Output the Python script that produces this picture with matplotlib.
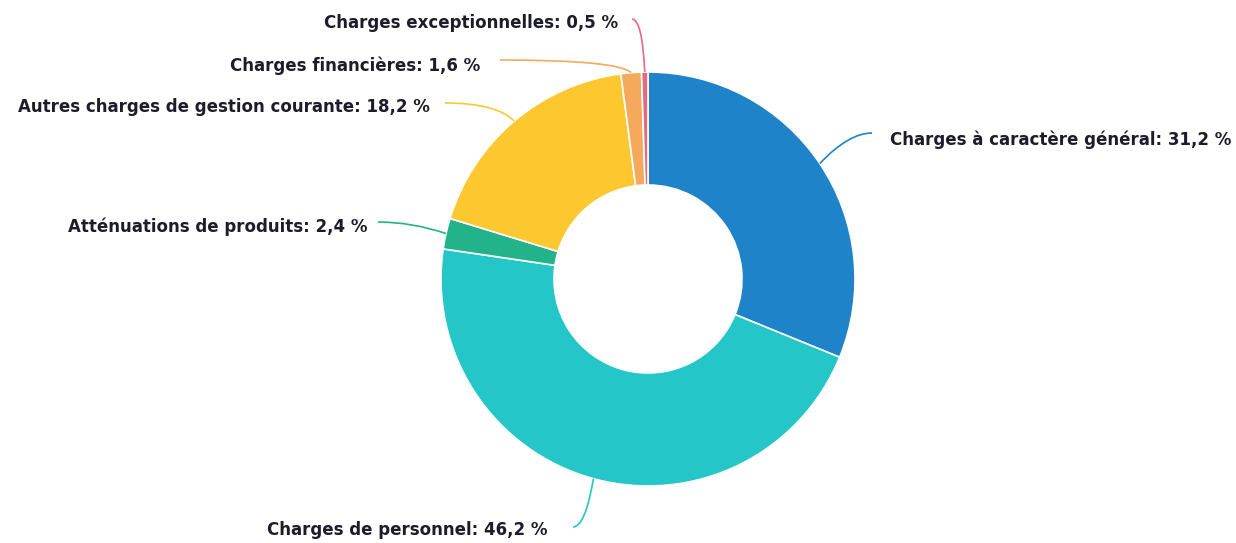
import numpy as np
import matplotlib
matplotlib.use("Agg")
import matplotlib.pyplot as plt
from matplotlib.path import Path
from matplotlib.patches import PathPatch

# data
categories = ["Charges à caractère général", "Charges de personnel",
              "Atténuations de produits", "Autres charges de gestion courante",
              "Charges financières", "Charges exceptionnelles"]
values = [31.2, 46.2, 2.4, 18.2, 1.6, 0.5]
value_labels = ["31,2", "46,2", "2,4", "18,2", "1,6", "0,5"]
colors = ["#1E83C8", "#24C6C8", "#22B38A", "#FDC82F", "#F5A95B", "#E8697F"]

# connector end near text (pixel coords) and how much the line bends
label_pos = [(872, 133), (573, 527), (378, 222), (445, 103), (500, 60), (632, 19)]
bend = [0.45, 0.6, 0.5, 0.75, 0.9, 0.8]
# text anchor (pixel coords) and alignment
text_pos = [(890, 140), (267, 530), (367, 227), (430, 107), (480, 66), (618, 23)]
text_ha = ["left", "left", "right", "right", "right", "right"]

W, H = 1236, 543
CX, CY, R, RIN = 648, 279, 207, 94

fig = plt.figure(figsize=(W / 100, H / 100), dpi=100)
ax = fig.add_axes([0, 0, 1, 1])
ax.pie(values, colors=colors, startangle=90, counterclock=False,
       center=(CX, H - CY), radius=R, normalize=True,
       wedgeprops=dict(width=R - RIN, edgecolor="white", linewidth=1.2))
ax.set_xlim(0, W)
ax.set_ylim(0, H)
ax.set_aspect("auto")
ax.axis("off")

total = sum(values)
start = 90.0
for i, v in enumerate(values):
    sweep = v / total * 360
    mid = np.radians(start - sweep / 2)
    start -= sweep
    wx = CX + R * np.cos(mid)
    wy = (H - CY) + R * np.sin(mid)
    lx, ly = label_pos[i]
    ly = H - ly
    cx = bend[i] * wx + (1 - bend[i]) * lx
    path = Path([(lx, ly), (cx, ly), (wx, wy)],
                [Path.MOVETO, Path.CURVE3, Path.CURVE3])
    ax.add_patch(PathPatch(path, fill=False, edgecolor=colors[i], lw=1.2))
    tx, ty = text_pos[i]
    ax.text(tx, H - ty, f"{categories[i]}: {value_labels[i]} %", ha=text_ha[i],
            va="center", fontsize=12, fontweight="bold", color="#1c1c2a",
            family="DejaVu Sans")

fig.savefig("out.png", dpi=100)
